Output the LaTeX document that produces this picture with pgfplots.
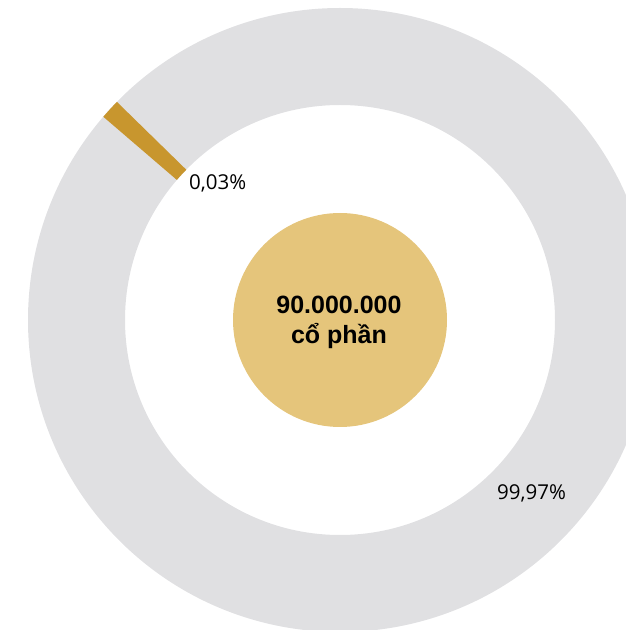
\documentclass[border=0pt]{standalone}
\usepackage{fontspec}
\setmainfont{Open Sans}
\newfontfamily\arialfont{Liberation Sans}
\usepackage{pgfplots}
\pgfplotsset{compat=1.18}
\definecolor{ringgray}{HTML}{E0E0E2}
\definecolor{slicegold}{HTML}{C8962E}
\definecolor{centergold}{HTML}{E5C57B}
\begin{document}
\begin{tikzpicture}
\begin{axis}[
  width=626pt, height=630pt, scale only axis,
  xmin=0, xmax=626, ymin=0, ymax=630,
  hide axis, clip=true,
]
% shares: 99.97 % (grey) and 0.03 % (gold, drawn with a minimum width)
% grey ring (99.97 %)
\fill[ringgray, even odd rule] (axis cs:340,310) circle[radius=312] (axis cs:340,310) circle[radius=215];
% gold slice (0.03 %)
\fill[slicegold] ([shift={(135.65:215pt)}]axis cs:340,310)
   arc[start angle=135.65, end angle=139.35, radius=215pt]
   -- ([shift={(139.35:312pt)}]axis cs:340,310)
   arc[start angle=139.35, end angle=135.65, radius=312pt] -- cycle;
% centre disc
\fill[centergold] (axis cs:340,310) circle[radius=107];
\node[font=\arialfont\bfseries\fontsize{25}{30}\selectfont, align=center, text=black]
  at (axis cs:339,308) {90.000.000\\cổ phần};
\node[anchor=west, font=\fontsize{20.5}{22}\selectfont, inner sep=0pt] at (axis cs:189,447) {0,03\%};
\node[anchor=west, font=\fontsize{20.5}{22}\selectfont, inner sep=0pt] at (axis cs:497,137) {99,97\%};
\end{axis}
\pgfresetboundingbox
\path[use as bounding box] (current axis.south west) rectangle (current axis.north east);
\end{tikzpicture}
\end{document}
